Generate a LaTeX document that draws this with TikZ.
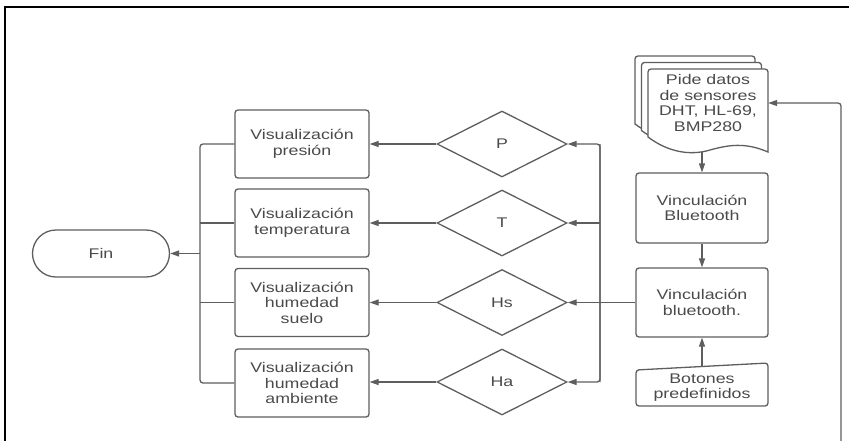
\documentclass[tikz,border=0pt]{standalone}
\usepackage{fontspec}
\setmainfont{Liberation Sans}[FakeStretch=1.27]
\usetikzlibrary{arrows.meta,shapes.geometric,shapes.misc}
\definecolor{linegray}{HTML}{5E5E5E}
\definecolor{textgray}{HTML}{4A4A4A}
\begin{document}
\begin{tikzpicture}[x=1pt,y=-1pt,
  every node/.style={font=\fontsize{14}{15.5}\selectfont, text=textgray, align=center, inner sep=0pt},
  box/.style={draw=linegray, line width=1.3pt, rounded corners=3pt, minimum width=134pt, minimum height=68pt},
  bbox/.style={box, minimum width=132pt, minimum height=70pt},
  decision/.style={diamond, draw=linegray, line width=1.3pt, minimum width=130pt, minimum height=66pt},
  term/.style={rounded rectangle, draw=linegray, line width=1.3pt, minimum width=137pt, minimum height=47pt},
  outline/.style={draw=linegray, line width=1.3pt},
  conn/.style={draw=linegray, line width=1.3pt},
  arr/.style={conn, -{Triangle[length=9pt,width=6pt]}}
]
\useasboundingbox (0,0) rectangle (849,440);

% outer frame
\draw[black, line width=1.8pt] (5,441) -- (5,7) -- (850,7);

% terminal
\node[term] (fin) at (101,253.5) {Fin};

% display boxes
\node[box] (v1) at (302,144) {Visualización\\presión};
\node[box] (v2) at (302,223) {Visualización\\temperatura};
\node[box] (v3) at (302,302.5) {Visualización\\humedad\\suelo};
\node[box] (v4) at (302,383) {Visualización\\humedad\\ambiente};

% decisions
\node[decision] (d1) at (502,144) {P};
\node[decision] (d2) at (502,223) {T};
\node[decision] (d3) at (502,302.5) {Hs};
\node[decision] (d4) at (502,382) {Ha};

% right column
\node[bbox] (bt1) at (702,208) {Vinculación\\Bluetooth};
\node[bbox, minimum height=69pt] (bt2) at (702,302.5) {Vinculación\\bluetooth.};

% manual input: predefined buttons (slanted top edge)
\node (btn) at (702,387.5) {Botones\\predefinidos};
\draw[outline, rounded corners=3pt]
  ([shift={(-66pt,-18.5pt)}]btn.center) -- ([shift={(-66pt,17.5pt)}]btn.center)
  -- ([shift={(66pt,24.5pt)}]btn.center) -- ([shift={(66pt,-18.5pt)}]btn.center) -- cycle;
\coordinate (btntop) at ([yshift=21pt]btn.center);

% stacked documents: sensor data request
\foreach \o in {13,6.5}{
  \begin{scope}[shift={(-\o,-\o)}]
    \draw[outline, fill=white] (768,152) [rounded corners=3pt] -- (768,69) -- (648,69)
      -- (648,100) [sharp corners] -- (648,137)
      .. controls (668,152) and (690,156) .. (710,150)
      .. controls (728,145) and (745,142) .. (768,152) -- cycle;
  \end{scope}
}
\draw[outline, fill=white] (768,152) [rounded corners=3pt] -- (768,69) -- (648,69)
  -- (648,100) [sharp corners] -- (648,137)
  .. controls (668,152) and (690,156) .. (710,150)
  .. controls (728,145) and (745,142) .. (768,152) -- cycle;
\node[minimum width=120pt, minimum height=68pt] (doc) at (708,103)
  {Pide datos\\de sensores\\DHT, HL-69,\\BMP280};
\coordinate (docb) at (702,152);

% connectors in the right column
\draw[arr] (docb) -- (bt1.north);
\draw[arr] (bt1.south) -- (bt2.north);
\draw[arr] (btntop) -- (bt2.south);

% loop back to the sensor request
\coordinate (loopb) at (841,441);
\draw[arr, rounded corners=3pt] (loopb) |- (doc.east);

% distribution bus to the decisions
\coordinate (bus) at (600,0);
\draw[arr] (bt2.west) -- (d3.east);
\draw[arr, rounded corners=3pt] (bus |- d4.east) -- (bus |- d1.east) -- (d1.east);
\draw[arr, rounded corners=3pt] (bus |- d1.east) -- (bus |- d4.east) -- (d4.east);
\draw[arr] (bus |- d2.east) -- (d2.east);

% decisions to display boxes
\foreach \i in {1,2,3,4}{
  \draw[arr] (d\i.west) -- (v\i.east |- d\i.west);
}

% collecting bus to the end
\coordinate (lb) at (200,0);
\draw[conn, rounded corners=3pt] (v1.west) -- (lb |- v1.west) -- (lb |- v4.west) -- (v4.west);
\draw[conn] (v2.west) -- (lb |- v2.west);
\draw[conn] (v3.west) -- (lb |- v3.west);
\draw[arr] (lb |- fin.east) -- (fin.east);
\end{tikzpicture}
\end{document}
